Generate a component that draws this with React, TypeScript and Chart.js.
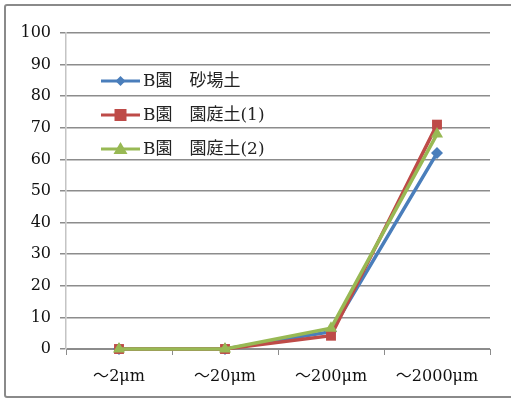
import React, { useEffect, useRef } from "react";
import { Chart, registerables } from "chart.js";

Chart.register(...registerables);

const categories = ["～2μm", "～20μm", "～200μm", "～2000μm"];
const seriesLabels = ["B園　砂場土", "B園　園庭土(1)", "B園　園庭土(2)"];
const sunaba = [0, 0, 5.5, 62];
const teien1 = [0, 0, 4.2, 71];
const teien2 = [0, 0, 6.6, 68];
const yTicks = [0, 10, 20, 30, 40, 50, 60, 70, 80, 90, 100];

const colors = ["#4a7ebb", "#be4b48", "#98b954"];
const pointStyles = ["rectRot", "rect", "triangle"];
const drawOrder = [2, 1, 0];
const TICK_FONT = { family: "'DejaVu Serif', 'Liberation Serif', 'Noto Sans CJK JP', serif", size: 16 };

const legendPlugin = {
  id: "innerLegend",
  afterDraw(chart: any) {
    const ctx = chart.ctx;
    const ds = chart.data.datasets;
    ctx.save();
    ds.forEach((d: any, i: number) => {
      const y = 81 + i * 34;
      ctx.strokeStyle = d.borderColor;
      ctx.lineWidth = 3;
      ctx.beginPath();
      ctx.moveTo(101, y);
      ctx.lineTo(140, y);
      ctx.stroke();
      ctx.fillStyle = d.backgroundColor;
      const cx = 120.5;
      ctx.beginPath();
      if (d.pointStyle === "rectRot") {
        ctx.moveTo(cx, y - 5);
        ctx.lineTo(cx + 5, y);
        ctx.lineTo(cx, y + 5);
        ctx.lineTo(cx - 5, y);
      } else if (d.pointStyle === "rect") {
        ctx.rect(cx - 6, y - 6, 12, 12);
      } else {
        ctx.moveTo(cx, y - 7);
        ctx.lineTo(cx + 7, y + 5);
        ctx.lineTo(cx - 7, y + 5);
      }
      ctx.closePath();
      ctx.fill();
      ctx.fillStyle = "#222";
      ctx.font = "17px 'DejaVu Serif', 'Liberation Serif', 'Noto Sans CJK JP', serif";
      ctx.textBaseline = "middle";
      ctx.textAlign = "left";
      ctx.fillText(d.label, 143, y + 1);
    });
    ctx.restore();
  },
};

export default function App() {
  const ref = useRef<HTMLCanvasElement>(null);
  useEffect(() => {
    if (!ref.current) return;
    const data = [sunaba, teien1, teien2];
    const chart = new Chart(ref.current, {
      type: "line",
      data: {
        labels: categories,
        datasets: data.map((vals, i) => ({
          label: seriesLabels[i],
          data: vals,
          order: drawOrder[i],
          clip: false as any,
          borderColor: colors[i],
          backgroundColor: colors[i],
          borderWidth: 3.5,
          pointStyle: pointStyles[i] as any,
          pointRadius: i === 0 ? 6 : 7,
          pointBorderWidth: 0,
          tension: 0,
        })),
      },
      options: {
        responsive: false,
        animation: false,
        layout: { padding: { left: 0, top: 33, right: 21, bottom: 0 } },
        plugins: { legend: { display: false }, tooltip: { enabled: false } },
        scales: {
          x: {
            type: "category",
            offset: true,
            grid: {
              offset: true,
              drawOnChartArea: false,
              drawTicks: true,
              tickLength: 6,
              color: "#8c8c8c",
            },
            border: { display: true, color: "#8c8c8c", width: 1 },
            ticks: { color: "#111", font: TICK_FONT, padding: 12, maxRotation: 0 },
            afterFit: (s: any) => {
              s.height = 53;
            },
          },
          y: {
            min: 0,
            max: 100,
            afterBuildTicks: (s: any) => {
              s.ticks = yTicks.map((v) => ({ value: v }));
            },
            grid: { color: "#8c8c8c", lineWidth: 1.5, tickLength: 6 },
            border: { display: true, color: "#c4c4c4", width: 1.5 },
            ticks: { color: "#111", font: TICK_FONT, padding: 9 },
            afterFit: (s: any) => {
              s.width = 66;
            },
          },
        },
      },
      plugins: [legendPlugin],
    });
    return () => chart.destroy();
  }, []);
  return (
    <div style={{ position: "absolute", left: 0, top: 0, width: 511, height: 402, background: "#fff", overflow: "hidden" }}>
      <div
        style={{
          position: "absolute",
          left: 4,
          top: 4,
          width: 530,
          height: 394,
          border: "2px solid #8a8a8a",
          borderRadius: 3,
          boxSizing: "border-box",
        }}
      />
      <canvas ref={ref} width={511} height={402} style={{ position: "absolute", left: 0, top: 0 }} />
    </div>
  );
}
